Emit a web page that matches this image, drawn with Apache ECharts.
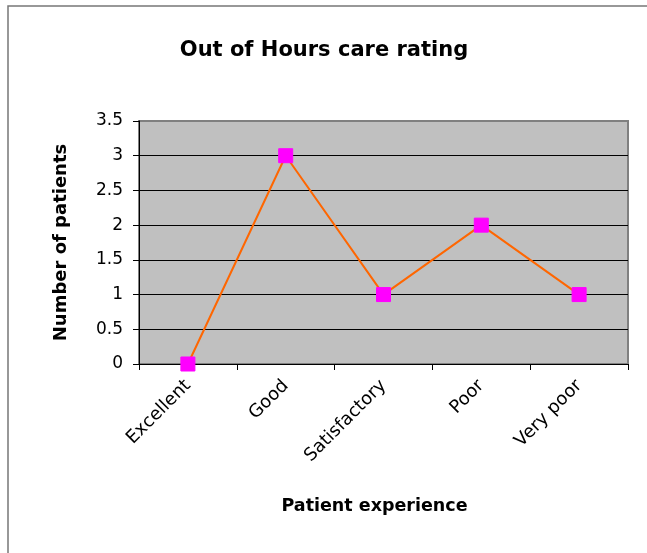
<!DOCTYPE html>
<html>
<head>
<meta charset="utf-8">
<script src="https://cdn.jsdelivr.net/npm/echarts@6/dist/echarts.min.js"></script>
<style>
html,body{margin:0;padding:0;background:#fff;}
#chart{width:647px;height:553px;}
</style>
</head>
<body>
<div id="chart"></div>
<script>
// ratings and counts
var categories = ['Excellent', 'Good', 'Satisfactory', 'Poor', 'Very poor'];
var patients = [0, 3, 1, 2, 1];
var yTicks = [0, 0.5, 1, 1.5, 2, 2.5, 3, 3.5];

// the original text is wide, DejaVu gets closer to it than Arial
var font = 'DejaVu Sans, Liberation Sans, Arial, sans-serif';

var myChart = echarts.init(document.getElementById('chart'));
option = {
	animation : false,
	backgroundColor : '#fff',
	graphic : [ {
		type : 'rect',
		shape : { x : 8, y : 6, width : 660, height : 570 },
		style : { fill : 'none', stroke : '#777', lineWidth : 1.5 },
		silent : true
	} ],
	title : {
		text : 'Out of Hours care rating',
		left : 319,
		top : 35,
		textAlign : 'center',
		textStyle : {
			fontFamily : font,
			fontSize : 21,
			fontWeight : 'bold',
			color : '#000'
		}
	},
	grid : {
		left : 139,
		top : 121,
		right : 19,
		bottom : 189,
		show : true,
		backgroundColor : '#C0C0C0',
		borderColor : '#808080',
		borderWidth : 2
	},
	xAxis : [ {
		type : 'category',
		data : categories,
		name : 'Patient experience',
		nameLocation : 'middle',
		nameGap : 133,
		nameTextStyle : {
			fontFamily : font,
			fontSize : 17.5,
			fontWeight : 'bold',
			color : '#000',
			padding : [0, 18, 0, 0]
		},
		axisLine : { lineStyle : { color : '#000', width : 1 } },
		axisTick : { show : true, length : 6, lineStyle : { color : '#000' } },
		axisLabel : {
			rotate : 45,
			interval : 0,
			margin : 19,
			fontFamily : font,
			fontSize : 18,
			color : '#000'
		},
		splitLine : { show : false }
	} ],
	yAxis : [ {
		type : 'value',
		min : 0,
		max : 3.5,
		interval : 0.5,
		name : 'Number of patients',
		nameLocation : 'middle',
		nameGap : 69,
		nameTextStyle : {
			fontFamily : font,
			fontSize : 18,
			fontWeight : 'bold',
			color : '#000'
		},
		axisLine : { show : true, lineStyle : { color : '#000', width : 1 } },
		axisTick : { show : true, length : 6, lineStyle : { color : '#000' } },
		axisLabel : {
			margin : 16,
			fontFamily : font,
			fontSize : 17,
			color : '#000',
			formatter : function(value) {
				return yTicks.indexOf(value) >= 0 ? String(value) : '';
			}
		},
		splitLine : {
			show : true,
			showMaxLine : false,
			lineStyle : { color : '#000', width : 1 }
		}
	} ],
	series : [ {
		name : 'Patients',
		type : 'line',
		data : patients,
		symbol : 'rect',
		symbolSize : 14,
		lineStyle : { color : '#FF6600', width : 2 },
		itemStyle : { color : '#FF00FF', borderColor : '#FF00FF' }
	} ]
};
myChart.setOption(option);
</script>
</body>
</html>
